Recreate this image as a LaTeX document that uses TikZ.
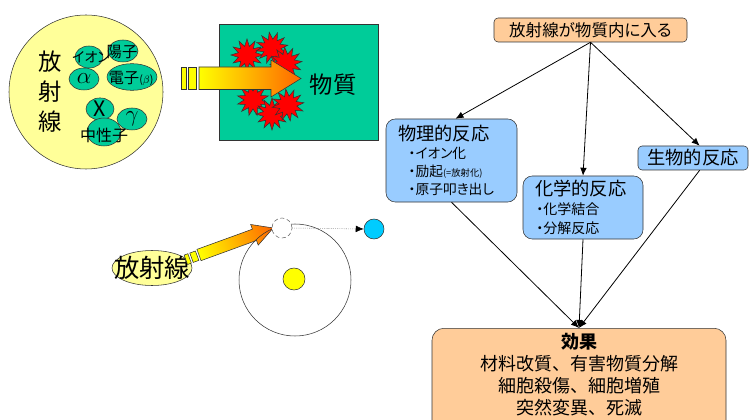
\documentclass[tikz,border=0pt]{standalone}
\usepackage{fontspec}
\setmainfont{Noto Sans CJK JP}[RawFeature=+palt]
\newfontfamily\jpwide{Noto Sans CJK JP}
\usepackage{tikz}
\usetikzlibrary{arrows.meta,shapes.geometric}
\definecolor{cPale} {HTML}{FFFF99}
\definecolor{cTeal} {HTML}{00CC99}
\definecolor{cYel}  {HTML}{FFFF00}
\definecolor{cOrg}  {HTML}{FF6600}
\definecolor{cSky}  {HTML}{99CCFF}
\definecolor{cPeach}{HTML}{FFCC99}
\definecolor{cCyan} {HTML}{00CCFF}
\definecolor{cLine} {HTML}{333333}
\tikzset{
  >={Latex[length=6pt,width=5pt]},
  pbox/.style={draw=cLine,fill=cPeach,rounded corners=3pt,inner sep=0pt},
  rbox/.style={draw=cLine,fill=cSky,rounded corners=7pt,align=left,inner sep=0pt},
  blob/.style={ellipse,draw=cLine,fill=cTeal,inner sep=0pt},
  greek/.style={font=\fontsize{16}{16}\selectfont},
  burst/.style={star,star points=12,star point ratio=1.8,draw=cLine,fill=red,
                inner sep=0pt,minimum size=24pt},
  beam/.style={draw=cLine,left color=cYel,right color=cOrg},
  bar/.style={draw=cLine,fill=cYel},
  ball/.style={circle,draw=cLine,inner sep=0pt},
  link/.style={->,semithick,black},
}

\begin{document}
\begin{tikzpicture}[x=0.75pt,y=-0.75pt]
  \clip (0,0) rectangle (755,420);

  % kinds of radiation
  \node[ball,fill=cPale,minimum size=115.5pt] (rays) at (86,92) {};
  \node[font=\fontsize{17.5}{22.5}\selectfont,align=center] (raytxt) at (50,92) {放\\射\\線};
  \node[blob,minimum width=21pt,minimum height=16.5pt] (ion) at (89,57) {};
  \node[blob,minimum width=22.5pt,minimum height=16.5pt] (prot) at (123,51) {};
  \node[blob,minimum width=22.5pt,minimum height=16.5pt,greek] (alpha) at (84,79) {$\alpha$};
  \node[blob,minimum width=37.5pt,minimum height=20pt] (elec) at (132,77) {};
  \node[blob,minimum width=21pt,minimum height=16.5pt,greek] (xray) at (100,109) {$\mathrm{X}$};
  \node[blob,minimum width=25.5pt,minimum height=21pt] (neut) at (104,132) {};
  \node[blob,minimum width=22.5pt,minimum height=16.5pt,greek] (gam) at (132,119) {$\gamma$};
  \node[font=\fontsize{10.5}{10}\selectfont] (iontxt) at (91,57) {イオン};
  \node[font=\fontsize{11.5}{12}\selectfont] (prottxt) at (122,52) {陽子};
  \node[font=\fontsize{11.5}{12}\selectfont] (electxt) at (131,78) {電子{\footnotesize($\beta$)}};
  \node[font=\fontsize{12}{12}\selectfont] (neuttxt) at (104,135) {中性子};

  % matter hit by the beam
  \node[draw=cLine,fill=cTeal,minimum width=119.25pt,minimum height=87pt] (target) at (298.5,82) {};
  \foreach \bx/\by/\bn/\br in {247/55/1/0,272/48/2/10,286/63/3/5,253/100/4/15,272/114/5/0,288/105/6/8}
    \node[burst,shape border rotate=\br] (burst\bn) at (\bx,\by) {};
  \path[bar] (181,67) rectangle (186,89.5);
  \path[bar] (188,67) rectangle (196,89.5);
  \path[beam] (199,67) -- (271,67) -- (271,60) -- (301,78.5) -- (271,97)
    -- (271,89.5) -- (199,89.5) -- cycle;
  \node[font=\fontsize{17.5}{18}\selectfont] (mattxt) at (333,85) {物質};

  % atom knocked by radiation
  \node[ellipse,draw=cLine,fill=cPale,minimum width=60pt,minimum height=26.25pt] (src) at (152,268) {};
  \node[font=\fontsize{19}{19}\selectfont] (srctxt) at (152,268) {放射線};
  \begin{scope}[transform canvas={shift={(199,255)},rotate=20}]
    \path[bar] (-14,-5) rectangle (-10,5);
    \path[bar] (-8,-5) rectangle (-2,5);
    \path[beam] (0,-6) -- (59,-6) -- (59,-11) -- (79,0) -- (59,11) -- (59,6)
      -- (0,6) -- cycle;
  \end{scope}
  \node[ball,minimum size=84pt] (orbit) at (295,280) {};
  \node[ball,fill=cYel,minimum size=16.5pt] (nucl) at (294,279) {};
  \node[ball,draw=black!60,densely dashed,fill=white,minimum size=15pt] (ghost) at (282,228) {};
  \node[ball,fill=cCyan,minimum size=15pt] (free) at (374,229) {};
  \draw[densely dotted,black!60,-{Latex[length=6pt,width=5pt,black]}] (ghost.east) -- (free.west);

  % flow of effects
  \node[pbox,minimum width=144.75pt,minimum height=18pt,font=\fontsize{12.4}{13}\selectfont]
    (entry) at (590.5,30) {放射線が物質内に入る};
  \node[rbox,text width=80.25pt,inner xsep=9pt,minimum height=62.25pt,
        font=\fontsize{10.3}{13.5}\selectfont] (phys) at (451.5,160.5)
    {{\fontsize{13.7}{13.5}\selectfont 物理的反応}\\
     \hspace*{8pt}・イオン化\\
     \hspace*{8pt}・励起{\fontsize{7}{8}\selectfont (=放射化)}\\
     \hspace*{8pt}・原子叩き出し};
  \node[rbox,text width=72pt,inner xsep=9pt,minimum height=47.25pt,
        font=\fontsize{10.5}{14}\selectfont] (chem) at (583,207.5)
    {{\fontsize{13.7}{14}\selectfont 化学的反応}\\
     \hspace*{1pt}・化学結合\\
     \hspace*{1pt}・分解反応};
  \node[rbox,rounded corners=3pt,minimum width=82.5pt,minimum height=18pt,
        font=\fontsize{13.7}{14}\selectfont] (bio) at (693,158) {生物的反応};
  \node[pbox,rounded corners=9pt,anchor=north,minimum width=220.5pt,align=center,
        inner ysep=4pt,text depth=40pt,font=\jpwide\fontsize{13.5}{16.5}\selectfont] (eff) at (579,328)
    {{\bfseries 効果}\\材料改質、有害物質分解\\細胞殺傷、細胞増殖\\突然変異、死滅};

  \draw[link] (entry.south) -- ([xshift=3pt]phys.north);
  \draw[link] (entry.south) -- (chem.north);
  \draw[link] (entry.south) -- ([xshift=5pt]bio.north);
  \draw[link] (phys.south) -- (eff.north);
  \draw[link] (chem.south) -- (eff.north);
  \draw[link] ([xshift=5pt]bio.south) -- (eff.north);
\end{tikzpicture}
\end{document}
